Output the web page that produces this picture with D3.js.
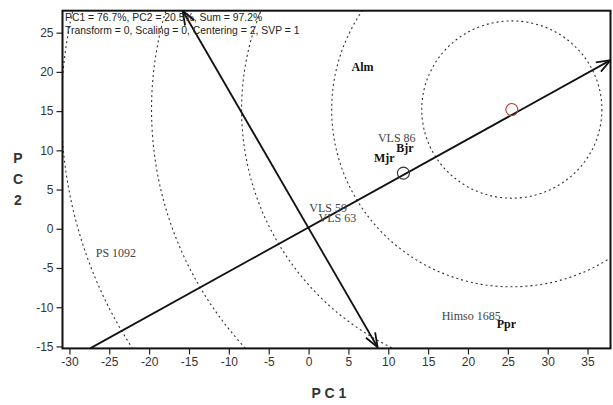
<!doctype html>
<html>
<head>
    <meta charset="UTF-8">
    <title>GGE biplot PC1 PC2</title>
    <script src="https://d3js.org/d3.v7.min.js"></script>
    <style>
        body { margin: 0; background: #fff; }
        .tick text { font-family: "Liberation Sans", Arial, sans-serif; font-size: 12px; fill: #333; }
    </style>
</head>
<body>
    <script>
        var w = 613;
        var h = 405;

        // data
        var xTicks = [-30, -25, -20, -15, -10, -5, 0, 5, 10, 15, 20, 25, 30, 35];
        var yTicks = [-15, -10, -5, 0, 5, 10, 15, 20, 25];

        var labels = ["Alm", "VLS 86", "Bjr", "Mjr", "VLS 59", "VLS 63", "PS 1092", "Himso 1685", "Ppr"];
        var labelX = [5.4, 8.7, 11.0, 8.2, 0.1, 1.25, -26.7, 16.7, 23.6];
        var labelY = [20.1, 11.0, 9.8, 8.5, 2.1, 0.85, -3.6, -11.6, -12.7];
        var labelBold = [true, false, true, true, false, false, false, false, true];

        // average environment axis and its perpendicular
        var axisFrom = [[-27.4, -15.25], [8.66, -15.1]];
        var axisTo = [[37.9, 21.5], [-15.8, 27.8]];
        var axisHeadStart = [false, true];

        var ringCenter = [25.5, 15.2];
        var ringRadii = [11.3, 22.6, 33.9, 45.2, 56.5];

        var markerX = [11.9, 25.5];
        var markerY = [7.1, 15.2];
        var markerColor = ["#333", "#c0392b"];

        var infoLines = ["PC1 = 76.7%, PC2 = 20.5%, Sum = 97.2%",
            "Transform = 0, Scaling = 0, Centering = 2, SVP = 1"];

        var pLeft = 62.5, pRight = 610.5, pTop = 10.7, pBottom = 348.4;

        var x = d3.scaleLinear().domain([-30.87, 37.88]).range([pLeft, pRight]);
        var y = d3.scaleLinear().domain([-15.25, 27.8]).range([pBottom, pTop]);

        var svg = d3.select("body").append("svg")
            .attr("width", w)
            .attr("height", h);

        svg.append("clipPath").attr("id", "plot")
            .append("rect")
            .attr("x", pLeft).attr("y", pTop)
            .attr("width", pRight - pLeft).attr("height", pBottom - pTop);

        var g = svg.append("g").attr("clip-path", "url(#plot)");

        // dotted rings
        g.selectAll("ellipse.ring")
            .data(ringRadii)
            .enter().append("ellipse")
            .attr("class", "ring")
            .attr("cx", x(ringCenter[0]))
            .attr("cy", y(ringCenter[1]))
            .attr("rx", function (d) { return x(d) - x(0); })
            .attr("ry", function (d) { return y(0) - y(d); })
            .attr("fill", "none")
            .attr("stroke", "#333")
            .attr("stroke-width", 1.1)
            .attr("stroke-dasharray", "2,3");

        // axis lines
        g.selectAll("line.vec")
            .data(axisFrom)
            .enter().append("line")
            .attr("class", "vec")
            .attr("x1", function (d) { return x(d[0]); })
            .attr("y1", function (d) { return y(d[1]); })
            .attr("x2", function (d, i) { return x(axisTo[i][0]); })
            .attr("y2", function (d, i) { return y(axisTo[i][1]); })
            .attr("stroke", "#111")
            .attr("stroke-width", 1.8);

        function head(px, py, qx, qy) {
            // open V at (px,py) pointing away from (qx,qy)
            var a = Math.atan2(py - qy, px - qx);
            var len = 15, spread = 0.36;
            var p = [];
            p.push([px - len * Math.cos(a - spread), py - len * Math.sin(a - spread)]);
            p.push([px, py]);
            p.push([px - len * Math.cos(a + spread), py - len * Math.sin(a + spread)]);
            return d3.line()(p);
        }

        axisFrom.forEach(function (d, i) {
            var x1 = x(d[0]), y1 = y(d[1]), x2 = x(axisTo[i][0]), y2 = y(axisTo[i][1]);
            g.append("path").attr("d", head(x2, y2, x1, y1))
                .attr("fill", "none").attr("stroke", "#111").attr("stroke-width", 1.8);
            if (axisHeadStart[i]) {
                g.append("path").attr("d", head(x1, y1, x2, y2))
                    .attr("fill", "none").attr("stroke", "#111").attr("stroke-width", 1.8);
            }
        });

        // circle markers
        g.selectAll("circle.mk")
            .data(markerX)
            .enter().append("circle")
            .attr("class", "mk")
            .attr("cx", function (d) { return x(d); })
            .attr("cy", function (d, i) { return y(markerY[i]); })
            .attr("r", 6)
            .attr("fill", "none")
            .attr("stroke", function (d, i) { return markerColor[i]; })
            .attr("stroke-width", 1.1);

        // point labels
        g.selectAll("text.lab")
            .data(labels)
            .enter().append("text")
            .attr("class", "lab")
            .attr("x", function (d, i) { return x(labelX[i]); })
            .attr("y", function (d, i) { return y(labelY[i]); })
            .attr("font-family", "'Liberation Serif', 'Times New Roman', serif")
            .attr("font-size", 12)
            .attr("font-weight", function (d, i) { return labelBold[i] ? "bold" : "normal"; })
            .attr("fill", function (d, i) { return labelBold[i] ? "#111" : "#444"; })
            .text(function (d) { return d; });

        // info text
        svg.selectAll("text.info")
            .data(infoLines)
            .enter().append("text")
            .attr("class", "info")
            .attr("x", 65)
            .attr("y", function (d, i) { return 20.5 + i * 13.5; })
            .attr("font-family", "'Liberation Sans', Arial, sans-serif")
            .attr("font-size", 10.4)
            .attr("fill", "#222")
            .text(function (d) { return d; });

        // axes
        var fmt = function (d) { return String(d); };
        var xAxis = svg.append("g")
            .attr("transform", "translate(0," + pBottom + ")")
            .call(d3.axisBottom(x).tickValues(xTicks).tickFormat(fmt).tickSize(6).tickPadding(3).tickSizeOuter(0));
        var yAxis = svg.append("g")
            .attr("transform", "translate(" + pLeft + ",0)")
            .call(d3.axisLeft(y).tickValues(yTicks).tickFormat(fmt).tickSize(6).tickPadding(3).tickSizeOuter(0));
        xAxis.select(".domain").remove();
        yAxis.select(".domain").remove();
        svg.selectAll(".tick line").attr("stroke", "#222").attr("stroke-width", 1.2);

        // frame
        svg.append("rect")
            .attr("x", pLeft).attr("y", pTop)
            .attr("width", pRight - pLeft).attr("height", pBottom - pTop)
            .attr("fill", "none")
            .attr("stroke", "#111")
            .attr("stroke-width", 2);

        // axis titles
        svg.append("text")
            .attr("x", 329).attr("y", 398)
            .attr("text-anchor", "middle")
            .attr("font-family", "'Liberation Sans', Arial, sans-serif")
            .attr("font-size", 14).attr("font-weight", "bold")
            .attr("fill", "#333")
            .text("P C 1");

        svg.selectAll("text.ytitle")
            .data(["P", "C", "2"])
            .enter().append("text")
            .attr("class", "ytitle")
            .attr("x", 18)
            .attr("y", function (d, i) { return 163 + i * 21; })
            .attr("text-anchor", "middle")
            .attr("font-family", "'Liberation Sans', Arial, sans-serif")
            .attr("font-size", 14).attr("font-weight", "bold")
            .attr("fill", "#333")
            .text(function (d) { return d; });
    </script>
</body>
</html>
